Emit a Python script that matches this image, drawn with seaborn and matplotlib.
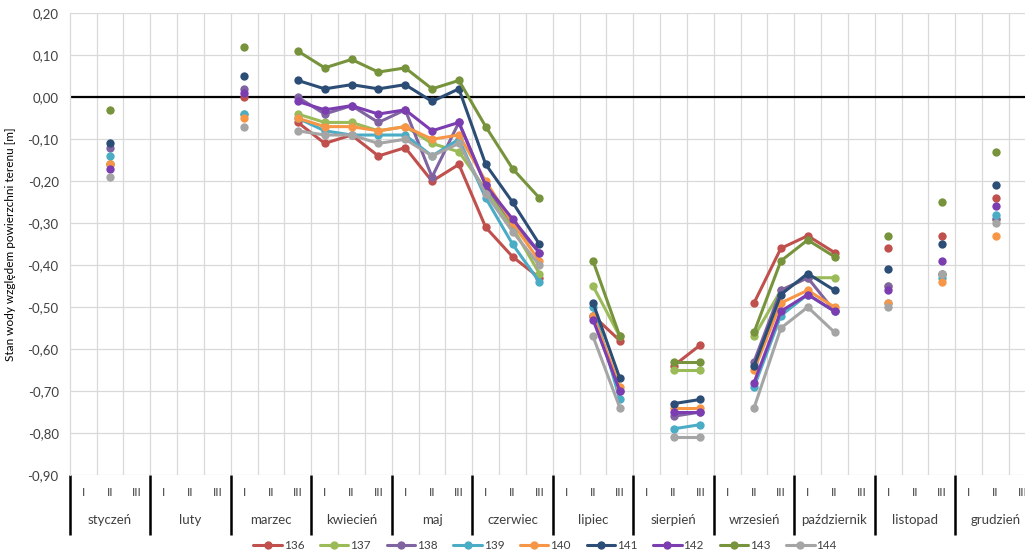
import numpy as np
import pandas as pd
import matplotlib
matplotlib.use("Agg")
import matplotlib.pyplot as plt
import seaborn as sns

# ---- data -------------------------------------------------------------
months = ["styczeń", "luty", "marzec", "kwiecień", "maj", "czerwiec", "lipiec",
          "sierpień", "wrzesień", "październik", "listopad", "grudzień"]
decades = ["I", "II", "III"]

# decade index (0..35) at which measurements exist
positions = [1, 6, 8, 9, 10, 11, 12, 13, 14, 15, 16, 17, 19, 20, 22, 23,
             25, 26, 27, 28, 30, 32, 34]

s136 = [-0.16, 0.00, -0.06, -0.11, -0.09, -0.14, -0.12, -0.20, -0.16, -0.31, -0.38, -0.43,
        -0.52, -0.58, -0.64, -0.59, -0.49, -0.36, -0.33, -0.37, -0.36, -0.33, -0.24]
s137 = [-0.16, -0.04, -0.04, -0.06, -0.06, -0.08, -0.07, -0.11, -0.13, -0.22, -0.31, -0.42,
        -0.45, -0.57, -0.65, -0.65, -0.57, -0.46, -0.43, -0.43, -0.45, -0.42, -0.29]
s138 = [-0.12, 0.02, 0.00, -0.04, -0.02, -0.06, -0.03, -0.19, -0.06, -0.21, -0.30, -0.37,
        -0.52, -0.70, -0.76, -0.75, -0.63, -0.46, -0.43, -0.51, -0.45, -0.42, -0.29]
s139 = [-0.14, -0.04, -0.05, -0.08, -0.09, -0.09, -0.09, -0.14, -0.10, -0.24, -0.35, -0.44,
        -0.50, -0.72, -0.79, -0.78, -0.69, -0.52, -0.47, -0.51, -0.49, -0.43, -0.28]
s140 = [-0.16, -0.05, -0.05, -0.07, -0.07, -0.08, -0.07, -0.10, -0.09, -0.20, -0.30, -0.39,
        -0.52, -0.69, -0.74, -0.74, -0.65, -0.49, -0.46, -0.50, -0.49, -0.44, -0.33]
s141 = [-0.11, 0.05, 0.04, 0.02, 0.03, 0.02, 0.03, -0.01, 0.02, -0.16, -0.25, -0.35,
        -0.49, -0.67, -0.73, -0.72, -0.64, -0.47, -0.42, -0.46, -0.41, -0.35, -0.21]
s142 = [-0.17, 0.01, -0.01, -0.03, -0.02, -0.04, -0.03, -0.08, -0.06, -0.21, -0.29, -0.37,
        -0.53, -0.70, -0.75, -0.75, -0.68, -0.51, -0.47, -0.51, -0.46, -0.39, -0.26]
s143 = [-0.03, 0.12, 0.11, 0.07, 0.09, 0.06, 0.07, 0.02, 0.04, -0.07, -0.17, -0.24,
        -0.39, -0.57, -0.63, -0.63, -0.56, -0.39, -0.34, -0.38, -0.33, -0.25, -0.13]
s144 = [-0.19, -0.07, -0.08, -0.09, -0.09, -0.11, -0.10, -0.14, -0.11, -0.23, -0.32, -0.40,
        -0.57, -0.74, -0.81, -0.81, -0.74, -0.55, -0.50, -0.56, -0.50, -0.42, -0.30]

series_names = ["136", "137", "138", "139", "140", "141", "142", "143", "144"]
series_values = [s136, s137, s138, s139, s140, s141, s142, s143, s144]
colors = ["#C0504D", "#9BBB59", "#8064A2", "#4BACC6", "#F79646",
          "#2C4D75", "#7B3DB0", "#77933C", "#A5A5A5"]

y_ticks = [0.20, 0.10, 0.00, -0.10, -0.20, -0.30, -0.40, -0.50, -0.60, -0.70, -0.80, -0.90]
y_label = "Stan wody względem powierzchni terenu [m]"

# ---- long-form table (segments break where a decade is missing) ------
seg_ids = np.concatenate([[0], np.cumsum(np.diff(positions) > 1)])
rows = []
for name, vals in zip(series_names, series_values):
    for p, s, v in zip(positions, seg_ids, vals):
        rows.append({"pos": p, "val": v, "series": name, "seg": int(s)})
df = pd.DataFrame(rows)

# ---- plot -------------------------------------------------------------
sns.set_theme(style="white")
plt.rcParams["font.family"] = ["Lato", "DejaVu Sans"]
text_col = "#404040"

fig = plt.figure(figsize=(10.25, 5.56), dpi=100)
ax = fig.add_axes([69.8 / 1025, 81 / 556, 966 / 1025, 461.7 / 556])

sns.lineplot(data=df, x="pos", y="val", hue="series", units="seg", estimator=None,
             palette=dict(zip(series_names, colors)), hue_order=series_names,
             marker="o", markersize=6, markeredgewidth=0, linewidth=2.2,
             sort=True, ax=ax, zorder=3)

ax.axhline(0, color="black", lw=1.6, zorder=2)

ax.set_xlim(-0.5, 35.5)
ax.set_ylim(-0.90, 0.20)
ax.set_yticks(y_ticks)
ax.set_yticklabels([f"{t:.2f}".replace(".", ",").replace("-0,00", "0,00") for t in y_ticks],
                   fontsize=9.5, color=text_col)
ax.tick_params(axis="y", length=0, pad=8)

ax.set_xticks(range(36))
ax.set_xticklabels(decades * 12, fontsize=8.5, color=text_col)
ax.tick_params(axis="x", length=0, pad=9)
ax.set_xticks(np.arange(0.5, 35.5, 1.0), minor=True)
ax.grid(True, which="minor", axis="x", color="#D9D9D9", lw=0.9)
ax.grid(True, which="major", axis="y", color="#D9D9D9", lw=0.9)
ax.grid(False, which="major", axis="x")
ax.set_axisbelow(True)

for sp in ["top", "right", "bottom"]:
    ax.spines[sp].set_visible(False)
ax.spines["left"].set_color("#D9D9D9")
ax.spines["left"].set_linewidth(0.9)

# month names and month separators below the axis
xt = ax.get_xaxis_transform()
for m, name in enumerate(months):
    ax.text(3 * m + 1, -0.098, name, transform=xt, ha="center", va="center",
            fontsize=9.5, color=text_col)
ax.vlines(np.arange(-0.5, 36, 3), -0.13, 0.0, transform=xt, colors="black",
          lw=1.8, clip_on=False)

ax.set_xlabel("")
ax.set_ylabel(y_label, fontsize=8.5, color="black", labelpad=8)

sns.move_legend(ax, "center", bbox_to_anchor=(0.492, -0.152), ncol=9, frameon=False,
                title=None, fontsize=8.5, handlelength=2.4, columnspacing=1.35,
                handletextpad=0.15)
for t in ax.get_legend().get_texts():
    t.set_color(text_col)

fig.savefig("out.png", dpi=100)
